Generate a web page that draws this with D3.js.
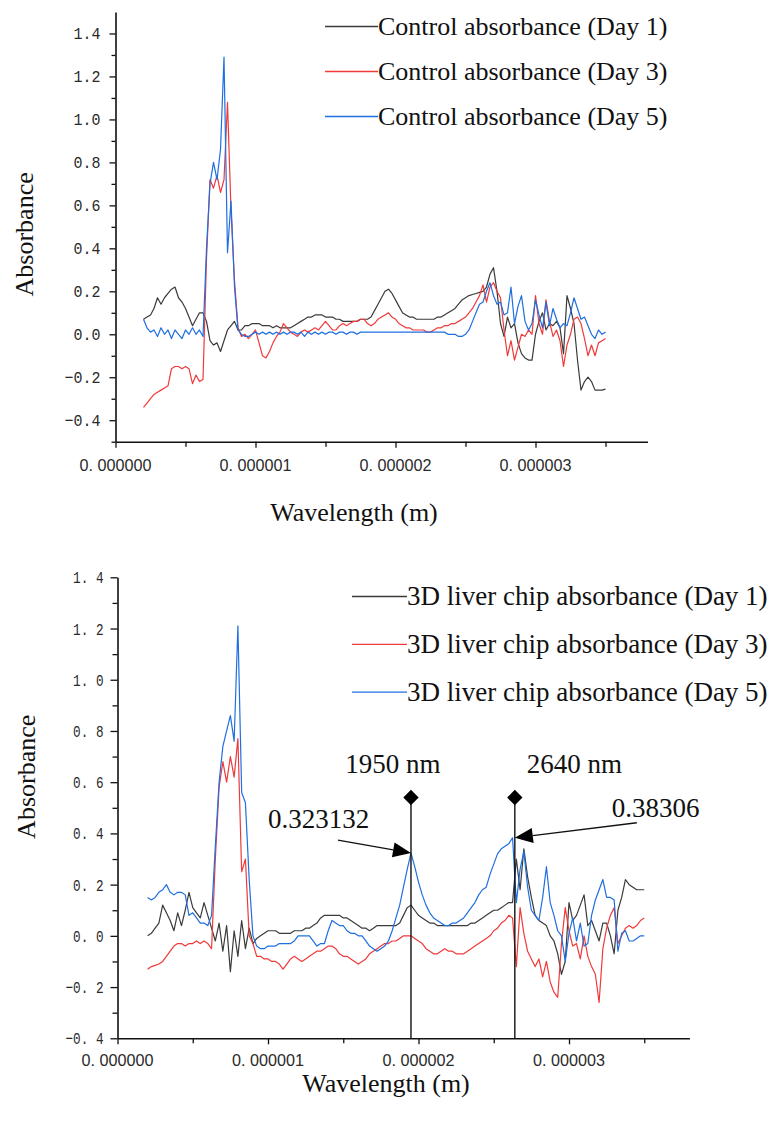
<!DOCTYPE html>
<html>
<head>
<meta charset="utf-8">
<script src="https://cdn.jsdelivr.net/npm/d3@7"></script>
<style>
  body { margin: 0; background: #fff; }
  svg { display: block; }
</style>
</head>
<body>
<svg id="fig" width="777" height="1135"></svg>
<script>
// sampling grid of the spectra (nm), one value every 25 nm
var wavelengthNm = d3.range(200, 3501, 25);

var dayNames = ['Day 1', 'Day 3', 'Day 5'];
var dayColors = ['#3b3b3b', '#f03a3a', '#1f6fe0'];

// ---- control (upper panel) ----
var ctrlDay1 = [
  0.07, 0.08, 0.09, 0.12, 0.17, 0.14, 0.17, 0.19, 0.21, 0.22,
  0.17, 0.15, 0.12, 0.08, 0.04, 0.07, 0.10, 0.10, 0.06, -0.03,
  -0.05, -0.04, -0.08, -0.03, 0.02, 0.04, 0.06, 0.02, 0.02, 0.04,
  0.04, 0.05, 0.05, 0.05, 0.04, 0.04, 0.04, 0.03, 0.04, 0.03,
  0.03, 0.03, 0.03, 0.04, 0.05, 0.06, 0.07, 0.08, 0.08, 0.09,
  0.09, 0.09, 0.08, 0.08, 0.08, 0.07, 0.07, 0.06, 0.06, 0.06,
  0.06, 0.06, 0.07, 0.07, 0.07, 0.08, 0.11, 0.14, 0.17, 0.20,
  0.21, 0.19, 0.16, 0.13, 0.10, 0.09, 0.08, 0.08, 0.07, 0.07,
  0.07, 0.07, 0.07, 0.07, 0.08, 0.08, 0.09, 0.10, 0.11, 0.12,
  0.14, 0.16, 0.17, 0.18, 0.185, 0.19, 0.195, 0.20, 0.22, 0.28,
  0.31, 0.20, 0.05, -0.01, 0.08, 0.03, 0.05, -0.04, -0.09, -0.11,
  -0.12, -0.12, 0.00, 0.06, 0.10, 0.02, 0.05, 0.04, 0.06, 0.03,
  -0.09, 0.18, 0.12, 0.05, -0.12, -0.26, -0.22, -0.20, -0.22, -0.26,
  -0.26, -0.26, -0.255
];
var ctrlDay3 = [
  -0.34, -0.32, -0.30, -0.28, -0.27, -0.26, -0.25, -0.24, -0.16, -0.15,
  -0.15, -0.16, -0.15, -0.16, -0.23, -0.19, -0.22, -0.21, 0.35, 0.72,
  0.68, 0.74, 0.66, 0.72, 1.08, 0.58, 0.25, 0.03, -0.01, 0.00,
  -0.02, 0.00, 0.02, -0.04, -0.10, -0.11, -0.08, -0.04, -0.01, 0.01,
  0.05, 0.03, 0.01, 0.00, -0.01, 0.01, 0.02, 0.01, 0.02, 0.03,
  0.02, 0.04, 0.06, 0.04, 0.02, 0.02, 0.04, 0.05, 0.04, 0.05,
  0.06, 0.06, 0.07, 0.07, 0.05, 0.04, 0.05, 0.07, 0.08, 0.09,
  0.10, 0.08, 0.07, 0.05, 0.04, 0.03, 0.03, 0.02, 0.02, 0.02,
  0.02, 0.01, 0.01, 0.02, 0.03, 0.03, 0.04, 0.04, 0.05, 0.05,
  0.06, 0.07, 0.08, 0.10, 0.12, 0.15, 0.18, 0.23, 0.15, 0.22,
  0.24, 0.20, 0.17, 0.02, -0.10, -0.03, -0.12, -0.06, 0.00, -0.01,
  0.02, 0.00, 0.18, 0.05, 0.00, 0.16, 0.06, -0.01, 0.02, -0.03,
  -0.15, -0.05, 0.00, 0.07, 0.08, 0.05, -0.02, -0.10, -0.05, -0.10,
  -0.04, -0.03, -0.02
];
var ctrlDay5 = [
  0.07, 0.03, 0.01, 0.02, -0.01, 0.03, 0.00, 0.02, -0.02, 0.02,
  0.00, -0.02, 0.02, 0.00, 0.03, 0.00, 0.02, -0.01, 0.40, 0.70,
  0.80, 0.72, 0.86, 1.29, 0.38, 0.62, 0.22, 0.02, 0.00, -0.01,
  -0.01, 0.00, 0.01, 0.00, 0.01, 0.00, 0.01, 0.00, 0.01, 0.00,
  0.01, 0.00, 0.01, 0.01, 0.00, 0.01, -0.01, 0.01, 0.00, 0.01,
  0.00, 0.01, 0.00, 0.01, 0.01, 0.00, 0.01, 0.01, 0.00, 0.01,
  0.01, 0.00, 0.01, 0.01, 0.01, 0.01, 0.01, 0.01, 0.01, 0.01,
  0.01, 0.01, 0.01, 0.01, 0.01, 0.01, 0.01, 0.01, 0.01, 0.01,
  0.01, 0.01, 0.01, 0.01, 0.01, 0.01, 0.01, 0.00, 0.00, 0.00,
  -0.01, -0.01, 0.00, 0.02, 0.06, 0.10, 0.14, 0.15, 0.20, 0.24,
  0.18, 0.14, 0.15, 0.09, 0.10, 0.22, 0.05, 0.13, 0.18, 0.06,
  0.02, 0.05, 0.16, 0.09, 0.03, 0.15, 0.04, 0.12, 0.07, 0.03,
  0.05, 0.04, 0.10, 0.17, 0.12, 0.07, 0.08, 0.04, 0.00, -0.02,
  0.02, 0.00, 0.01
];

// ---- 3D liver chip (lower panel) ----
var chipDay1 = [
  0.00, 0.01, 0.03, 0.05, 0.12, 0.09, 0.06, 0.02, 0.09, 0.04,
  0.10, 0.17, 0.11, 0.09, 0.07, 0.13, 0.08, 0.03, -0.02, 0.05,
  -0.06, 0.04, -0.14, 0.02, -0.08, 0.06, -0.05, 0.03, -0.03, -0.01,
  0.00, 0.01, 0.02, 0.02, 0.02, 0.01, 0.01, 0.01, 0.01, 0.02,
  0.02, 0.02, 0.03, 0.03, 0.04, 0.05, 0.07, 0.08, 0.08, 0.08,
  0.08, 0.08, 0.07, 0.07, 0.06, 0.05, 0.04, 0.03, 0.03, 0.02,
  0.03, 0.04, 0.04, 0.04, 0.04, 0.04, 0.04, 0.05, 0.08, 0.11,
  0.12, 0.10, 0.08, 0.07, 0.06, 0.05, 0.05, 0.04, 0.04, 0.04,
  0.04, 0.04, 0.04, 0.04, 0.04, 0.04, 0.05, 0.05, 0.06, 0.07,
  0.08, 0.09, 0.10, 0.10, 0.11, 0.12, 0.13, 0.13, 0.30, 0.18,
  0.34, 0.23, 0.15, 0.08, 0.06, 0.05, 0.04, 0.00, -0.02, -0.07,
  -0.15, -0.10, 0.13, 0.06, 0.08, 0.12, 0.16, 0.04, 0.06, 0.02,
  -0.02, 0.05, 0.05, 0.00, -0.07, 0.10, 0.15, 0.22, 0.20, 0.19,
  0.18, 0.18, 0.18
];
var chipDay3 = [
  -0.13, -0.12, -0.115, -0.11, -0.10, -0.08, -0.06, -0.04, -0.03, -0.03,
  -0.04, -0.03, -0.03, -0.02, -0.03, -0.02, -0.03, -0.05, 0.30, 0.58,
  0.68, 0.60, 0.70, 0.62, 0.77, 0.25, 0.30, 0.00, -0.03, -0.08,
  -0.08, -0.09, -0.09, -0.10, -0.10, -0.11, -0.13, -0.11, -0.09, -0.08,
  -0.09, -0.10, -0.09, -0.08, -0.07, -0.06, -0.06, -0.05, -0.04, -0.04,
  -0.05, -0.07, -0.08, -0.08, -0.09, -0.10, -0.11, -0.10, -0.09, -0.07,
  -0.06, -0.05, -0.04, -0.03, -0.03, -0.02, -0.02, -0.01, 0.00, 0.00,
  0.00, -0.01, -0.02, -0.03, -0.05, -0.06, -0.07, -0.07, -0.06, -0.05,
  -0.06, -0.06, -0.07, -0.07, -0.07, -0.06, -0.05, -0.04, -0.03, -0.02,
  -0.01, 0.00, 0.02, 0.03, 0.05, 0.06, 0.08, 0.07, -0.12, 0.11,
  0.01, -0.06, -0.09, -0.12, -0.09, -0.16, -0.10, -0.18, -0.22, -0.24,
  -0.03, 0.11, 0.02, -0.04, -0.03, -0.09, 0.00, -0.08, -0.12, -0.15,
  -0.26, -0.05, 0.03, 0.08, 0.11, -0.03, 0.00, 0.03, 0.04, 0.03,
  0.04, 0.06, 0.07
];
var chipDay5 = [
  0.15, 0.14, 0.15, 0.17, 0.18, 0.20, 0.17, 0.16, 0.17, 0.17,
  0.16, 0.08, 0.09, 0.07, 0.05, 0.05, 0.04, 0.08, 0.35, 0.60,
  0.74, 0.80, 0.86, 0.76, 1.21, 0.56, 0.52, 0.22, 0.00, -0.04,
  -0.05, -0.05, -0.04, -0.04, -0.04, -0.03, -0.03, -0.03, -0.03, -0.02,
  0.00, 0.00, 0.00, 0.00, -0.02, -0.04, -0.03, -0.03, 0.02, 0.06,
  0.05, 0.04, 0.04, 0.02, 0.01, 0.01, 0.00, 0.00, -0.02, -0.04,
  -0.05, -0.06, -0.05, -0.04, -0.02, 0.02, 0.07, 0.12, 0.19, 0.26,
  0.323, 0.27, 0.21, 0.16, 0.12, 0.09, 0.07, 0.06, 0.05, 0.04,
  0.04, 0.05, 0.05, 0.06, 0.07, 0.09, 0.11, 0.13, 0.16, 0.18,
  0.19, 0.24, 0.28, 0.32, 0.34, 0.35, 0.36, 0.383, 0.13, 0.26,
  0.33, 0.19, 0.10, 0.08, 0.06, 0.15, 0.27, 0.13, 0.08, 0.02,
  0.00, -0.10, 0.01, 0.07, -0.02, 0.05, -0.04, -0.03, 0.08, 0.14,
  0.18, 0.22, 0.15, 0.15, 0.14, -0.06, 0.01, 0.02, -0.02, -0.02,
  -0.01, 0.00, 0.00
];

// ticks
var xMajorTicks = [0, 1e-6, 2e-6, 3e-6];
var xMinorTicks = [0.5e-6, 1.5e-6, 2.5e-6, 3.5e-6];
var yMajorTicks = [-0.4, -0.2, 0, 0.2, 0.4, 0.6, 0.8, 1.0, 1.2, 1.4];
var yMinorTopTicks = [-0.5, -0.3, -0.1, 0.1, 0.3, 0.5, 0.7, 0.9, 1.1, 1.3];
var yMinorBottomTicks = [-0.3, -0.1, 0.1, 0.3, 0.5, 0.7, 0.9, 1.1, 1.3];

// marked peaks in the lower panel
var peakNm = [1950, 2640];
var peakValue = [0.323132, 0.38306];
var peakNmLabels = ['1950 nm', '2640 nm'];
var peakValueLabels = ['0.323132', '0.38306'];

var svg = d3.select('#fig');
var serif = '"Liberation Serif", "Times New Roman", serif';
var mono = '"Liberation Mono", "Courier New", monospace';
var sans = '"Liberation Sans", Arial, sans-serif';

function drawPanel(p) {
  var x = d3.scaleLinear().domain([0, 3.8e-6]).range([p.left, p.right]);
  var y = d3.scaleLinear().domain(p.yDomain).range([p.bottom, p.top]);

  // axis lines and tick marks (labels are written below)
  var xAxis = svg.append('g').attr('transform', 'translate(0,' + p.bottom + ')')
    .call(d3.axisBottom(x).tickValues(xMajorTicks).tickSize(6).tickSizeOuter(0).tickFormat(''));
  xAxis.select('.domain').attr('stroke', '#111').attr('stroke-width', 1.6);
  xAxis.selectAll('.tick line').attr('stroke', '#111').attr('stroke-width', 1.3);

  svg.append('g').attr('transform', 'translate(0,' + p.bottom + ')')
    .call(d3.axisBottom(x).tickValues(xMinorTicks).tickSize(5).tickFormat(''))
    .call(function(g) { g.select('.domain').remove(); })
    .selectAll('.tick line').attr('stroke', '#111').attr('stroke-width', 1.3);

  var yAxis = svg.append('g').attr('transform', 'translate(' + p.left + ',0)')
    .call(d3.axisLeft(y).tickValues(yMajorTicks).tickSize(p.yTick).tickSizeOuter(0).tickFormat(''));
  yAxis.select('.domain').attr('stroke', '#111').attr('stroke-width', 1.6);
  yAxis.selectAll('.tick line').attr('stroke', '#111').attr('stroke-width', 1.3);

  svg.append('g').attr('transform', 'translate(' + p.left + ',0)')
    .call(d3.axisLeft(y).tickValues(p.yMinor).tickSize(p.yTick - 2).tickFormat(''))
    .call(function(g) { g.select('.domain').remove(); })
    .selectAll('.tick line').attr('stroke', '#111').attr('stroke-width', 1.3);

  // tick labels
  svg.append('g').selectAll('text')
    .data(xMajorTicks).enter().append('text')
    .attr('x', function(d) { return x(d); })
    .attr('y', p.bottom + p.xLabelDrop)
    .attr('text-anchor', 'middle')
    .attr('fill', '#2a2a2a')
    .style('font-family', sans).style('font-size', '17px')
    .text(function(d) { return d3.format('.6f')(d).replace('.', '. '); })
    .attr('textLength', 72).attr('lengthAdjust', 'spacingAndGlyphs');

  svg.append('g').selectAll('text')
    .data(yMajorTicks).enter().append('text')
    .attr('x', p.left - p.yLabelGap)
    .attr('y', function(d) { return y(d) + 6; })
    .attr('text-anchor', 'end')
    .attr('fill', '#2a2a2a')
    .style('font-family', mono).style('font-size', '17px')
    .text(function(d) { return d3.format('.1f')(d).replace('.', p.yDot); })
    .attr('textLength', function(d) { return d3.format('.1f')(d).replace('.', p.yDot).length * p.yChar; })
    .attr('lengthAdjust', 'spacingAndGlyphs');

  // spectra: Day 1 underneath, Day 5 on top
  var line = d3.line()
    .x(function(d, i) { return x(wavelengthNm[i] * 1e-9); })
    .y(function(d) { return y(d); });

  p.series.forEach(function(s, k) {
    svg.append('path').datum(s)
      .attr('fill', 'none')
      .attr('stroke', dayColors[k])
      .attr('stroke-width', 1.2)
      .attr('stroke-linejoin', 'round')
      .attr('d', line);
  });

  // axis titles
  svg.append('text')
    .attr('transform', 'translate(' + p.yTitleX + ',' + ((p.top + p.bottom) / 2 + p.yTitleShift) + ') rotate(-90)')
    .attr('text-anchor', 'middle')
    .style('font-family', serif).style('font-size', '26px').attr('fill', '#111')
    .text('Absorbance');

  svg.append('text')
    .attr('x', p.xTitleX).attr('y', p.xTitleY)
    .attr('text-anchor', 'middle')
    .style('font-family', serif).style('font-size', '26px').attr('fill', '#111')
    .text('Wavelength (m)');

  // legend
  dayNames.forEach(function(name, k) {
    var base = p.legendY + k * p.legendStep;
    svg.append('line')
      .attr('x1', p.legendX).attr('x2', p.legendX + p.legendLen)
      .attr('y1', base - 8.5).attr('y2', base - 8.5)
      .attr('stroke', dayColors[k]).attr('stroke-width', 1.3);
    svg.append('text')
      .attr('x', p.legendX + p.legendLen).attr('y', base)
      .style('font-family', serif).style('font-size', p.legendFont + 'px').attr('fill', '#111')
      .text(p.legendPrefix + ' (' + name + ')');
  });

  return { x: x, y: y };
}

// upper panel: control
drawPanel({
  left: 115.5, right: 647.5, top: 12, bottom: 441.7, yDomain: [-0.5, 1.5],
  yMinor: yMinorTopTicks, yTick: 6, yLabelGap: 15, yDot: '.', yChar: 9, xLabelDrop: 29,
  series: [ctrlDay1, ctrlDay3, ctrlDay5],
  yTitleX: 33, yTitleShift: 7.5, xTitleX: 354, xTitleY: 521,
  legendX: 325, legendLen: 53, legendY: 35, legendStep: 45, legendFont: 26,
  legendPrefix: 'Control absorbance'
});

// lower panel: 3D liver chip
var sc = drawPanel({
  left: 117.5, right: 689.4, top: 577.3, bottom: 1038.3, yDomain: [-0.4, 1.4],
  yMinor: yMinorBottomTicks, yTick: 7, yLabelGap: 14, yDot: '. ', yChar: 7.6, xLabelDrop: 28,
  series: [chipDay1, chipDay3, chipDay5],
  yTitleX: 35, yTitleShift: -31, xTitleX: 386, xTitleY: 1092,
  legendX: 352, legendLen: 55, legendY: 605, legendStep: 47.8, legendFont: 27,
  legendPrefix: '3D liver chip absorbance'
});

// peak markers: vertical line with diamond, wavelength label, value label with arrow
var markerY = sc.y(0.54);
var arrowTail = [[-73, -13], [122, -15]];
var valueLabelPos = [[-143, -25, 'start'], [97, -21, 'start']];
var nmLabelPos = [[-18, 'middle'], [12, 'start']];

peakNm.forEach(function(nm, i) {
  var px = sc.x(nm * 1e-9);
  var tipY = sc.y(peakValue[i]);

  svg.append('line')
    .attr('x1', px).attr('x2', px)
    .attr('y1', markerY).attr('y2', sc.y(-0.4))
    .attr('stroke', '#111').attr('stroke-width', 1.4);

  svg.append('path')
    .attr('d', d3.symbol(d3.symbolSquare).size(118)())
    .attr('transform', 'translate(' + px + ',' + markerY + ') rotate(45)')
    .attr('fill', '#000');

  svg.append('text')
    .attr('x', px + nmLabelPos[i][0]).attr('y', markerY - 25)
    .attr('text-anchor', nmLabelPos[i][1])
    .style('font-family', serif).style('font-size', '27px').attr('fill', '#111')
    .text(peakNmLabels[i]);

  svg.append('text')
    .attr('x', px + valueLabelPos[i][0]).attr('y', tipY + valueLabelPos[i][1])
    .attr('text-anchor', valueLabelPos[i][2])
    .style('font-family', serif).style('font-size', '27px').attr('fill', '#111')
    .text(peakValueLabels[i]);

  // arrow
  var tx = px + arrowTail[i][0], ty = tipY + arrowTail[i][1];
  var dx = px - tx, dy = tipY - ty, len = Math.sqrt(dx * dx + dy * dy);
  var ux = dx / len, uy = dy / len;
  var headLen = 18, headHalf = 7.5;
  var bx = px - ux * headLen, by = tipY - uy * headLen;
  svg.append('line')
    .attr('x1', tx).attr('y1', ty).attr('x2', bx).attr('y2', by)
    .attr('stroke', '#111').attr('stroke-width', 1.3);
  svg.append('polygon')
    .attr('points', [
      [px, tipY],
      [bx - uy * headHalf, by + ux * headHalf],
      [bx + uy * headHalf, by - ux * headHalf]
    ].map(function(pt) { return pt.join(','); }).join(' '))
    .attr('fill', '#000');
});
</script>
</body>
</html>
